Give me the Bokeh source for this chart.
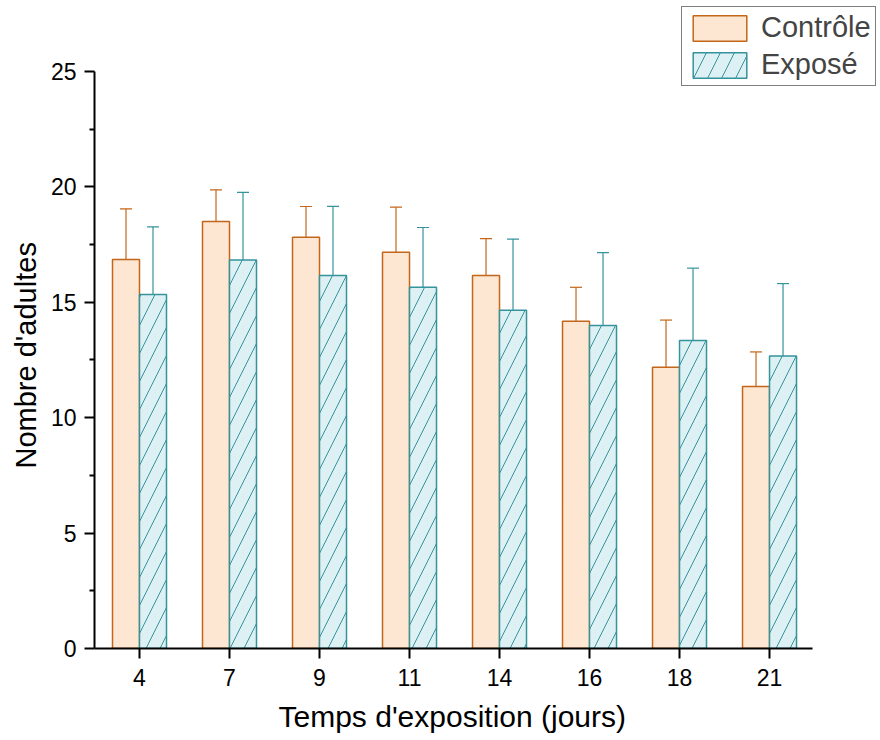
from bokeh.plotting import figure
from bokeh.models import (ColumnDataSource, Whisker, TeeHead, Legend, LegendItem, Range1d,
                          FixedTicker, Title)
from bokeh.transform import dodge
from bokeh.embed import file_html
from bokeh.resources import INLINE

days = ["4", "7", "9", "11", "14", "16", "18", "21"]
controle = [16.85, 18.5, 17.82, 17.17, 16.16, 14.18, 12.19, 11.35]
controle_err = [2.2, 1.37, 1.33, 1.95, 1.6, 1.47, 2.04, 1.5]
expose = [15.34, 16.83, 16.16, 15.65, 14.66, 13.99, 13.34, 12.67]
expose_err = [2.93, 2.93, 3.0, 2.59, 3.08, 3.16, 3.14, 3.14]

c_line = "#C4661A"
c_fill = "#FDE6D2"
e_line = "#35939C"
e_fill = "#DDF1F4"
font = "Liberation Sans"

xi = list(range(len(days)))
src = ColumnDataSource(dict(
    xi=xi,
    c=controle,
    c_up=[v + e for v, e in zip(controle, controle_err)],
    c_lo=[v - e for v, e in zip(controle, controle_err)],
    e=expose,
    e_up=[v + e for v, e in zip(expose, expose_err)],
    e_lo=[v - e for v, e in zip(expose, expose_err)],
))

p = figure(width=880, height=740, x_range=Range1d(-0.5, 8.233), y_range=Range1d(0, 28.076),
           output_backend="svg", toolbar_location=None,
           min_border_left=94, min_border_right=0, min_border_top=0, min_border_bottom=92)
p.outline_line_color = None
p.xgrid.visible = False
p.ygrid.visible = False

rc = p.vbar(x=dodge("xi", -0.15), top="c", width=0.3, source=src,
            fill_color=c_fill, line_color=c_line, line_width=1.5)
re = p.vbar(x=dodge("xi", 0.15), top="e", width=0.3, source=src,
            fill_color=e_fill, line_color=e_line, line_width=1.5,
            hatch_pattern="/", hatch_color=e_line, hatch_scale=28, hatch_weight=1)

for base, up, lo, col in ((dodge("xi", -0.15), "c_up", "c_lo", c_line),
                          (dodge("xi", 0.15), "e_up", "e_lo", e_line)):
    p.add_layout(Whisker(source=src, base=base, upper=up, lower=lo,
                         line_color=col, line_width=1.2,
                         upper_head=TeeHead(size=12, line_color=col, line_width=1.2),
                         lower_head=TeeHead(size=12, line_color=col, line_width=1.2)))

p.yaxis.ticker = FixedTicker(ticks=[0, 5, 10, 15, 20, 25],
                             minor_ticks=[2.5, 7.5, 12.5, 17.5, 22.5])
p.xaxis.ticker = FixedTicker(ticks=xi)
p.xaxis.major_label_overrides = {i: d for i, d in zip(xi, days)}
p.yaxis.bounds = (0, 25)
p.xaxis.bounds = (-0.5, 7.48)
for ax in (p.xaxis, p.yaxis):
    ax.axis_line_width = 2
    ax.axis_line_color = "black"
    ax.major_tick_line_width = 2
    ax.major_tick_line_color = "black"
    ax.major_tick_out = 10
    ax.major_tick_in = 0
    ax.major_label_text_font = font
    ax.major_label_text_font_size = "23px"
    ax.major_label_text_color = "black"
p.yaxis.minor_tick_line_width = 2
p.yaxis.minor_tick_line_color = "black"
p.yaxis.minor_tick_out = 5
p.yaxis.minor_tick_in = 0
p.yaxis.major_label_standoff = 8
p.xaxis.major_label_standoff = 10
p.xaxis.minor_tick_line_color = None

# small spacer between tick labels and x title
p.add_layout(Title(text=" ", text_font_size="4px", standoff=2), "below")
p.add_layout(Title(text="Temps d'exposition (jours)", align="left", offset=184,
                   text_font=font, text_font_size="30px", text_font_style="normal",
                   text_color="black", standoff=0), "below")
p.add_layout(Title(text="Nombre d'adultes", align="left", offset=180,
                   text_font=font, text_font_size="29px", text_font_style="normal",
                   text_color="black", standoff=12), "left")

legend = Legend(items=[LegendItem(label="Contrôle", renderers=[rc]),
                       LegendItem(label="Exposé", renderers=[re])],
                location=(587, 562), orientation="vertical",
                label_text_font=font, label_text_font_size="29px",
                glyph_width=67, glyph_height=32, label_height=32, spacing=4, padding=4,
                margin=0, label_standoff=8, border_line_color="black", border_line_width=1,
                background_fill_alpha=1)
p.add_layout(legend, "center")

open("out.html", "w").write(file_html(p, INLINE))
